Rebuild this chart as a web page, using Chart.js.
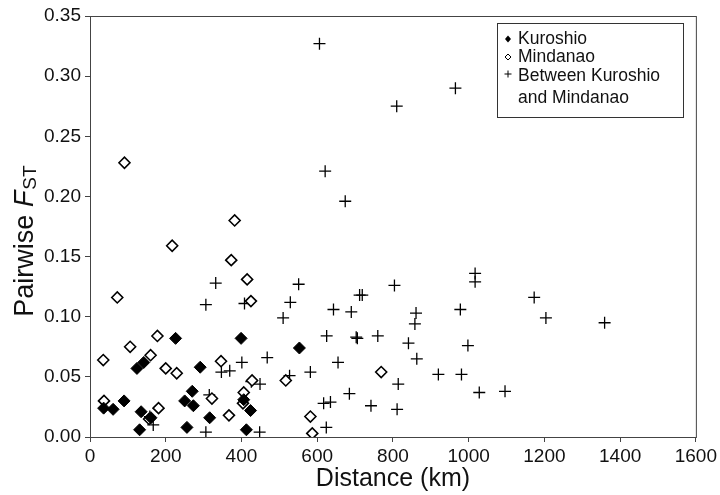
<!DOCTYPE html>
<html>
<head>
<meta charset="utf-8">
<script src="https://cdn.jsdelivr.net/npm/chart.js@4/dist/chart.umd.min.js"></script>
<style>
  html, body { margin: 0; padding: 0; background: #fff; }
  #wrap { width: 720px; height: 495px; }
</style>
</head>
<body>
<div id="wrap"><canvas id="myChart"></canvas></div>
<script>
// values: [distance km, pairwise Fst]
const kuroshio = [
  [36, 0.024], [61, 0.023], [90, 0.030], [124, 0.057], [142, 0.062], [226, 0.082],
  [135, 0.021], [131, 0.006], [161, 0.016], [250, 0.030], [270, 0.038], [273, 0.026],
  [256, 0.008], [291, 0.058], [316, 0.016], [399, 0.082], [406, 0.031], [424, 0.022],
  [413, 0.006], [553, 0.074]
];
const mindanao = [
  [35, 0.064], [37, 0.030], [72, 0.116], [91, 0.228], [106, 0.075], [178, 0.084],
  [160, 0.068], [200, 0.057], [229, 0.053], [181, 0.024], [156, 0.015], [217, 0.159],
  [346, 0.063], [322, 0.032], [367, 0.018], [382, 0.180], [373, 0.147], [415, 0.131],
  [425, 0.113], [428, 0.047], [406, 0.037], [404, 0.028], [517, 0.047], [582, 0.017],
  [587, 0.003], [769, 0.054]
];
const between = [
  [158, 0.017], [167, 0.010], [306, 0.110], [408, 0.111], [306, 0.004], [448, 0.004],
  [347, 0.054], [369, 0.055], [401, 0.062], [468, 0.066], [426, 0.046], [449, 0.044],
  [315, 0.035], [332, 0.128], [529, 0.112], [510, 0.099], [551, 0.127], [643, 0.106],
  [690, 0.104], [712, 0.118], [719, 0.118], [804, 0.126], [861, 0.103], [858, 0.094],
  [625, 0.084], [703, 0.083], [706, 0.082], [760, 0.084], [841, 0.078], [863, 0.065],
  [655, 0.062], [582, 0.054], [527, 0.051], [814, 0.044], [920, 0.052], [685, 0.036],
  [617, 0.028], [635, 0.029], [742, 0.026], [811, 0.023], [624, 0.008], [978, 0.106],
  [1204, 0.099], [1359, 0.095], [998, 0.076], [981, 0.052], [1028, 0.037], [1096, 0.038],
  [1173, 0.116], [1017, 0.136], [1017, 0.129], [606, 0.327], [621, 0.221], [674, 0.196],
  [810, 0.275], [965, 0.290]
];
const seriesLabels = ["Kuroshio", "Mindanao", "Between Kuroshio and Mindanao"];
const xTicks = [0, 1600, 200];   // min, max, step
const yTicks = [0, 0.35, 0.05];

const FONT = "'Liberation Sans', Arial, Helvetica, sans-serif";
const toXY = arr => arr.map(p => ({ x: p[0], y: p[1] }));

// box round the plot, y title with subscript, legend inside plot
const decor = {
  id: "decor",
  afterDraw(chart) {
    const c = chart.ctx, a = chart.chartArea;
    c.save();
    c.strokeStyle = "#444";
    c.lineWidth = 1;
    c.strokeRect(a.left + 0.5, a.top + 0.5, a.right - a.left, a.bottom - a.top);

    // y title
    c.translate(33, 241);
    c.rotate(-Math.PI / 2);
    c.fillStyle = "#111";
    c.textBaseline = "alphabetic";
    c.textAlign = "left";
    const p1 = "Pairwise ";
    c.font = "27px " + FONT;
    const w1 = c.measureText(p1).width;
    c.font = "italic 27px " + FONT;
    const w2 = c.measureText("F").width;
    c.font = "19px " + FONT;
    const w3 = c.measureText("ST").width;
    let x0 = -(w1 + w2 + w3 + 1) / 2;
    c.font = "27px " + FONT;
    c.fillText(p1, x0, 0);
    c.font = "italic 27px " + FONT;
    c.fillText("F", x0 + w1, 0);
    c.font = "19px " + FONT;
    c.fillText("ST", x0 + w1 + w2 + 1, 3);
    c.restore();

    // legend
    c.save();
    c.strokeStyle = "#333";
    c.lineWidth = 1;
    c.strokeRect(497.5, 23.5, 186, 94);
    c.font = "17.5px " + FONT;
    c.fillStyle = "#111";
    c.textBaseline = "middle";
    const rows = [
      { t: seriesLabels[0], y: 39 },
      { t: seriesLabels[1], y: 57 },
      { t: "Between Kuroshio", y: 76 },
      { t: "and Mindanao", y: 98 }
    ];
    rows.forEach(r => c.fillText(r.t, 518, r.y));
    const mx = 508;
    // filled diamond
    c.beginPath();
    c.moveTo(mx, 35.5); c.lineTo(mx + 3, 39); c.lineTo(mx, 42.5); c.lineTo(mx - 3, 39); c.closePath();
    c.fillStyle = "#000"; c.fill();
    // open diamond
    c.beginPath();
    c.moveTo(mx, 54); c.lineTo(mx + 3, 57); c.lineTo(mx, 60); c.lineTo(mx - 3, 57); c.closePath();
    c.lineWidth = 1; c.strokeStyle = "#000"; c.stroke();
    // plus
    c.beginPath();
    c.moveTo(mx - 3.5, 74); c.lineTo(mx + 3.5, 74);
    c.moveTo(mx, 70.5); c.lineTo(mx, 77.5);
    c.stroke();
    c.restore();
  }
};

const ctx = document.getElementById("myChart").getContext("2d");
const myChart = new Chart(ctx, {
  type: "scatter",
  data: {
    datasets: [
      {
        label: seriesLabels[0],
        data: toXY(kuroshio),
        pointStyle: "rectRot",
        pointRadius: 6,
        backgroundColor: "#000",
        borderColor: "#000",
        borderWidth: 1
      },
      {
        label: seriesLabels[1],
        data: toXY(mindanao),
        pointStyle: "rectRot",
        pointRadius: 5.5,
        backgroundColor: "#fff",
        borderColor: "#000",
        borderWidth: 1.6
      },
      {
        label: seriesLabels[2],
        data: toXY(between),
        pointStyle: "cross",
        pointRadius: 6,
        borderColor: "#000",
        borderWidth: 1.3
      }
    ]
  },
  options: {
    responsive: true,
    maintainAspectRatio: false,
    animation: false,
    layout: { padding: { left: 0, top: 16, right: 23, bottom: 0 } },
    plugins: {
      legend: { display: false },
      tooltip: { enabled: false }
    },
    scales: {
      x: {
        type: "linear",
        min: xTicks[0],
        max: xTicks[1],
        ticks: {
          stepSize: xTicks[2],
          color: "#111",
          padding: 3,
          font: { family: FONT, size: 19 },
          callback: v => String(v)
        },
        grid: { drawOnChartArea: false, tickLength: 5, color: "#444" },
        border: { color: "#444" },
        title: {
          display: true,
          text: "Distance (km)",
          color: "#111",
          padding: { top: 0, bottom: 1 },
          font: { family: FONT, size: 25 }
        },
        afterFit: s => { s.height = 495 - 437; }
      },
      y: {
        min: yTicks[0],
        max: yTicks[1],
        ticks: {
          stepSize: yTicks[2],
          color: "#111",
          padding: 4,
          font: { family: FONT, size: 19 },
          callback: v => v.toFixed(2)
        },
        grid: { drawOnChartArea: false, tickLength: 5, color: "#444" },
        border: { color: "#444" },
        afterFit: s => { s.width = 90; }
      }
    }
  },
  plugins: [decor]
});
</script>
</body>
</html>
